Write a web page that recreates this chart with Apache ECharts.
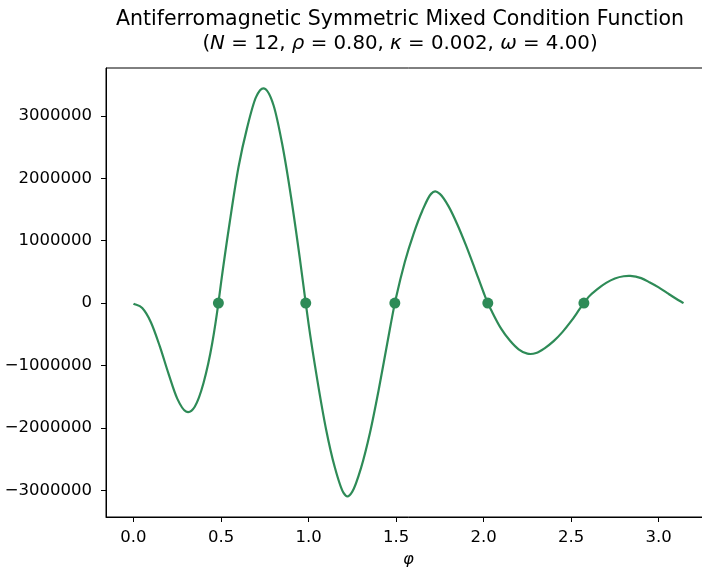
<!DOCTYPE html>
<html>
<head>
<meta charset="utf-8">
<script src="https://cdn.jsdelivr.net/npm/echarts@6/dist/echarts.min.js"></script>
<style>
  html, body { margin: 0; padding: 0; background: #fff; overflow: hidden; }
  #chart { width: 720px; height: 567px; }
</style>
</head>
<body>
<div id="chart"></div>
<script>
// Sampled curve: phi values and the function value at each
const phi = [0, 0.05, 0.10, 0.15, 0.20, 0.25, 0.30, 0.35, 0.40, 0.45, 0.485, 0.50, 0.55, 0.60,
  0.65, 0.70, 0.742, 0.80, 0.85, 0.90, 0.95, 0.984, 1.00, 1.05, 1.10, 1.15, 1.20, 1.222, 1.25,
  1.30, 1.35, 1.40, 1.45, 1.493, 1.50, 1.55, 1.60, 1.65, 1.70, 1.723, 1.75, 1.80, 1.85, 1.90,
  1.95, 2.00, 2.024, 2.05, 2.10, 2.15, 2.20, 2.25, 2.30, 2.35, 2.40, 2.45, 2.50, 2.55, 2.573,
  2.60, 2.65, 2.70, 2.75, 2.80, 2.838, 2.90, 2.95, 3.00, 3.05, 3.10, 3.142];
const values = [-10000, -80000, -310000, -690000, -1130000, -1530000, -1737000, -1660000,
  -1280000, -640000, 0, 320000, 1300000, 2180000, 2820000, 3300000, 3441000, 3170000, 2540000,
  1700000, 720000, 0, -330000, -1230000, -2020000, -2630000, -3040000, -3098000, -3020000,
  -2640000, -2090000, -1400000, -640000, 0, 90000, 660000, 1110000, 1480000, 1750000, 1790000,
  1750000, 1550000, 1260000, 920000, 550000, 170000, 0, -150000, -410000, -600000, -740000,
  -810000, -800000, -720000, -610000, -465000, -290000, -90000, 0, 100000, 225000, 325000,
  395000, 430000, 435000, 400000, 330000, 252000, 160000, 70000, 0];

// Zero crossings marked with dots
const zeroPhi = [0.485, 0.984, 1.493, 2.024, 2.573];
const zeroVal = [0, 0, 0, 0, 0];

// Tick positions
const xTicks = [0, 0.5, 1.0, 1.5, 2.0, 2.5, 3.0];
const yTicks = [-3000000, -2000000, -1000000, 0, 1000000, 2000000, 3000000];

const titleLine1 = 'Antiferromagnetic Symmetric Mixed Condition Function';
const xName = 'φ';

const GREEN = '#2e8b57';
const FONT = 'DejaVu Sans';

const chart = echarts.init(document.getElementById('chart'), null, { renderer: 'canvas' });

const zeroPts = zeroPhi.map((p, i) => [p, zeroVal[i]]);
const fmtY = v => (v < 0 ? '\u2212' + Math.abs(v) : String(v));

// Draws the sampled curve as a cubic Hermite spline through the projected samples
function renderCurve(params, api) {
  const pts = phi.map((p, i) => api.coord([p, values[i]]));
  const n = pts.length;
  const sec = [];
  for (let k = 0; k < n - 1; k++) {
    sec.push((pts[k + 1][1] - pts[k][1]) / (pts[k + 1][0] - pts[k][0]));
  }
  const m = new Array(n);
  m[0] = sec[0];
  m[n - 1] = sec[n - 2];
  for (let i = 1; i < n - 1; i++) {
    const h0 = pts[i][0] - pts[i - 1][0];
    const h1 = pts[i + 1][0] - pts[i][0];
    m[i] = (h0 * sec[i] + h1 * sec[i - 1]) / (h0 + h1);
  }
  let d = 'M' + pts[0][0].toFixed(2) + ' ' + pts[0][1].toFixed(2);
  for (let i = 0; i < n - 1; i++) {
    const h = pts[i + 1][0] - pts[i][0];
    const c1x = pts[i][0] + h / 3, c1y = pts[i][1] + m[i] * h / 3;
    const c2x = pts[i + 1][0] - h / 3, c2y = pts[i + 1][1] - m[i + 1] * h / 3;
    d += ' C' + c1x.toFixed(2) + ' ' + c1y.toFixed(2) + ' ' + c2x.toFixed(2) + ' ' +
      c2y.toFixed(2) + ' ' + pts[i + 1][0].toFixed(2) + ' ' + pts[i + 1][1].toFixed(2);
  }
  return {
    type: 'path',
    shape: { pathData: d },
    style: { fill: 'none', stroke: GREEN, lineWidth: 2.2, lineJoin: 'round', lineCap: 'butt' }
  };
}

chart.setOption({
  animation: false,
  backgroundColor: '#fff',
  title: {
    text: titleLine1 + '\n{a|(}{i|N}{a| = 12, }{i|ρ}{a| = 0.80, }{i|κ}{a| = 0.002, }{i|ω}{a| = 4.00)}',
    left: 395,
    top: 3,
    textAlign: 'center',
    textStyle: {
      fontFamily: FONT,
      fontSize: 20.5,
      fontWeight: 'normal',
      color: '#000',
      lineHeight: 24,
      rich: {
        a: { fontFamily: FONT, fontSize: 19.8, color: '#000', lineHeight: 24 },
        i: { fontFamily: FONT, fontSize: 19.8, fontStyle: 'italic', color: '#000', lineHeight: 24 }
      }
    }
  },
  grid: {
    left: 106, top: 68, width: 605, height: 449,
    outerBoundsMode: 'none',
    containLabel: false,
    show: true, borderColor: '#000', borderWidth: 1, backgroundColor: 'transparent'
  },
  xAxis: {
    type: 'value',
    min: -0.157,
    max: 3.299,
    name: xName,
    nameLocation: 'middle',
    nameGap: 31,
    nameTextStyle: { fontFamily: FONT, fontSize: 16.5, fontStyle: 'italic', color: '#000' },
    axisLine: { show: true, onZero: false, lineStyle: { color: '#000', width: 1 } },
    axisTick: { show: true, length: 5, customValues: xTicks, lineStyle: { color: '#000' } },
    axisLabel: {
      customValues: xTicks,
      margin: 12,
      fontFamily: FONT, fontSize: 16.5, color: '#000',
      formatter: v => v.toFixed(1)
    },
    splitLine: { show: false }
  },
  yAxis: {
    type: 'value',
    min: -3427000,
    max: 3767000,
    axisLine: { show: true, onZero: false, lineStyle: { color: '#000', width: 1 } },
    axisTick: { show: true, length: 5, customValues: yTicks, lineStyle: { color: '#000' } },
    axisLabel: {
      customValues: yTicks,
      margin: 14,
      fontFamily: FONT, fontSize: 16.5, color: '#000',
      formatter: fmtY
    },
    splitLine: { show: false }
  },
  series: [
    {
      type: 'custom',
      coordinateSystem: 'cartesian2d',
      data: [[phi[0], values[0]]],
      renderItem: renderCurve,
      clip: false,
      silent: true,
      z: 2
    },
    {
      type: 'scatter',
      data: zeroPts,
      symbol: 'circle',
      symbolSize: 11,
      itemStyle: { color: GREEN, opacity: 1 },
      z: 3
    }
  ]
});
</script>
</body>
</html>
